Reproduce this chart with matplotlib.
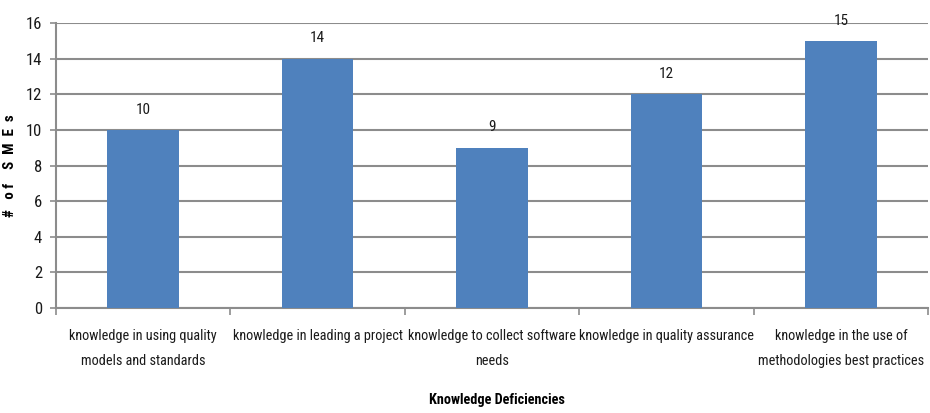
import matplotlib.pyplot as plt
from matplotlib import font_manager

categories = [
    "knowledge in using quality\nmodels and standards",
    "knowledge in leading a project",
    "knowledge to collect software\nneeds",
    "knowledge in quality assurance",
    "knowledge in the use of\nmethodologies best practices",
]
counts = [10, 14, 9, 12, 15]
yticks = [0, 2, 4, 6, 8, 10, 12, 14, 16]

# prefer a narrow face if one is around
names = {f.name for f in font_manager.fontManager.ttflist}
narrow = [n for n in ["Liberation Sans Narrow", "Roboto Condensed", "DejaVu Sans Condensed"] if n in names]
if narrow:
    plt.rcParams["font.family"] = [narrow[0], "DejaVu Sans"]
    size = 10.3
else:
    plt.rcParams["font.family"] = ["Liberation Sans", "DejaVu Sans"]
    size = 9

fig = plt.figure(figsize=(9.3, 4.13), dpi=100)
ax = fig.add_axes([0.060, 0.254, 0.938, 0.69])

x = list(range(len(counts)))
ax.bar(x, counts, width=0.41, color="#4F81BD", zorder=3)
for xi, v in zip(x, counts):
    ax.text(xi, v + 0.75, str(v), ha="center", va="bottom", fontsize=size + 0.7, color="#1a1a1a")

ax.set_xlim(-0.5, len(counts) - 0.5)
ax.set_ylim(0, 16)
ax.set_yticks(yticks)
ax.yaxis.grid(True, color="#8c8c8c", linewidth=1.5, zorder=0)
ax.tick_params(axis="y", labelsize=size + 1.7, length=4, color="#8c8c8c", width=1.2, pad=6,
               labelcolor="#1a1a1a")

ax.set_xticks(x)
ax.set_xticklabels(categories, fontsize=size, linespacing=2.0, color="#1a1a1a")
ax.set_xticks([i + 0.5 for i in range(-1, len(counts))], minor=True)
ax.tick_params(axis="x", which="major", length=0, pad=15)
ax.tick_params(axis="x", which="minor", length=5, color="#8c8c8c", width=1.2)

for s in ["top", "right"]:
    ax.spines[s].set_visible(False)
for s in ["left", "bottom"]:
    ax.spines[s].set_color("#8c8c8c")
    ax.spines[s].set_linewidth(1.5)

ax.set_xlabel("Knowledge Deficiencies", fontsize=size, fontweight="bold")
ax.xaxis.set_label_coords(0.506, -0.298)
ax.set_ylabel("#   o f    S  M  E  s", fontsize=size + 0.5, fontweight="bold")
ax.yaxis.set_label_coords(-0.044, 0.5)

fig.savefig("out.png", dpi=100)
